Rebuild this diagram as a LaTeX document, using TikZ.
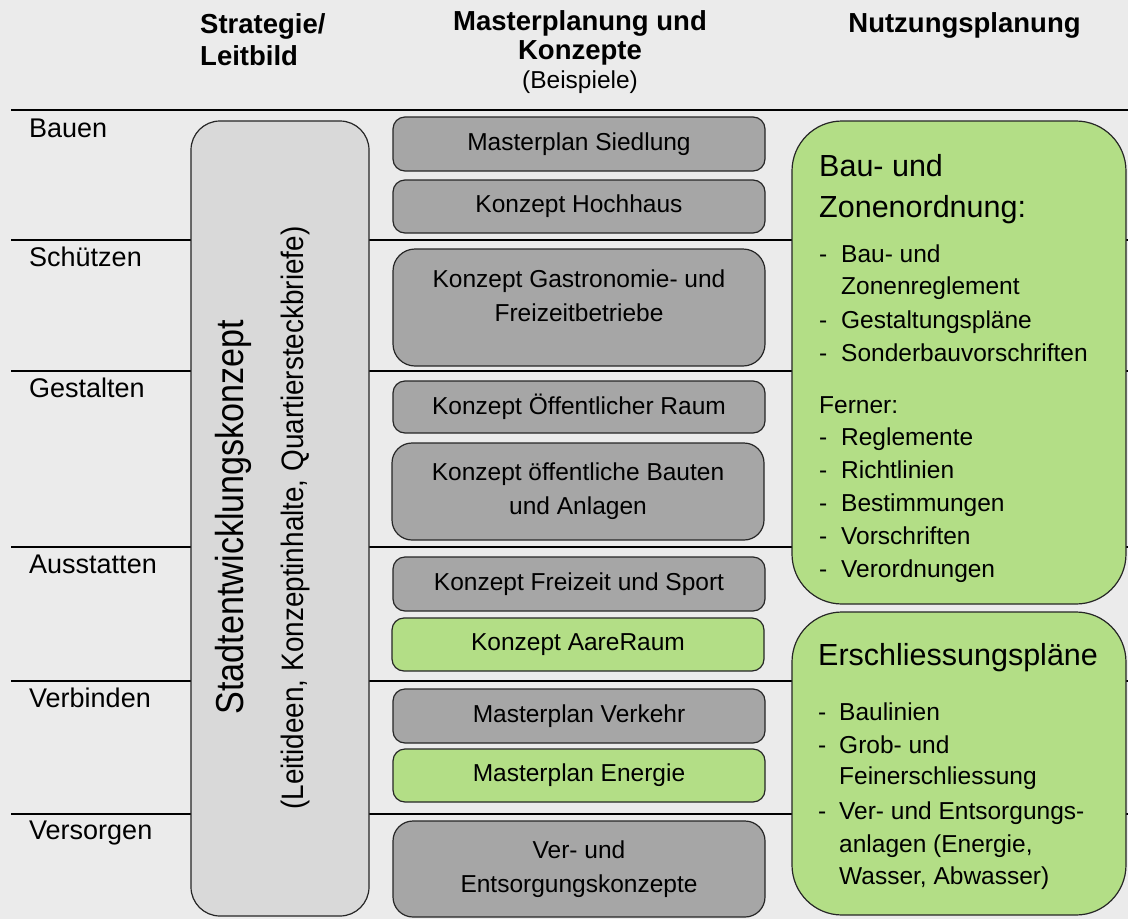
\documentclass[tikz,border=0pt]{standalone}
\usepackage{graphicx}
\usepackage{fontspec}
\setmainfont{Liberation Sans}
\definecolor{bgcol}{HTML}{EBEBEB}
\definecolor{boxgray}{HTML}{A6A6A6}
\definecolor{stratgray}{HTML}{D9D9D9}
\definecolor{boxgreen}{HTML}{B3DE86}
\definecolor{edgecol}{HTML}{262626}
\newcommand\myfs[2]{\fontsize{#1}{#2}\selectfont}
\begin{document}
\begin{tikzpicture}[x=1pt,y=-1pt,
  sepline/.style={draw=black, line width=2.5pt},
  hdr/.style={inner sep=0pt, font=\myfs{27.5}{30}\bfseries},
  subhdr/.style={inner sep=0pt, font=\myfs{24.5}{28}},
  lab/.style={inner sep=0pt, anchor=base west, font=\myfs{27}{30}},
  mbox/.style={draw=edgecol, line width=1.2pt, fill=boxgray, rounded corners=12pt,
    minimum width=372pt, inner sep=0pt, align=center, font=\myfs{24.5}{34}},
  mgreen/.style={mbox, fill=boxgreen},
  mtext/.style={inner sep=0pt, align=center, font=\myfs{24.5}{34}},
  gbox/.style={draw=edgecol, line width=1.2pt, fill=boxgreen, rounded corners=50pt,
    minimum width=334pt, inner sep=0pt},
  gtitle/.style={inner sep=0pt, anchor=base west, font=\myfs{30.5}{34}},
  gitem/.style={inner sep=0pt, anchor=base west, font=\myfs{24.5}{33}}
]
% background / page size
\path[use as bounding box, fill=bgcol] (0,0) rectangle (1128,919);

% separator lines
\foreach \yy in {110,240,371,547,681,814}
  \draw[sepline] (11,\yy) -- (1128,\yy);

% headers
\node[hdr, anchor=base west] (h1a) at (200,33) {Strategie/};
\node[hdr, anchor=base west] (h1b) at (200,65) {Leitbild};
\node[hdr, anchor=base] (h2a) at (580,30) {Masterplanung und};
\node[hdr, anchor=base] (h2b) at (580,59) {Konzepte};
\node[subhdr, anchor=base] (h2c) at (580,88) {(Beispiele)};
\node[hdr, anchor=base] (h3) at (964.5,32) {Nutzungsplanung};

% row labels
\node[lab] (l1) at (29,137) {Bauen};
\node[lab] (l2) at (29,266) {Schützen};
\node[lab] (l3) at (29,397) {Gestalten};
\node[lab] (l4) at (29,573) {Ausstatten};
\node[lab] (l5) at (29,707) {Verbinden};
\node[lab] (l6) at (29,839) {Versorgen};

% strategy box
\node[draw=edgecol, line width=1.2pt, fill=stratgray, rounded corners=29pt,
  minimum width=178pt, minimum height=795pt, inner sep=0pt] (sbox) at (280,518.5) {};
\node[rotate=90, anchor=base, inner sep=0pt] (sk1) at (243,517)
  {\scalebox{0.875}[1]{\myfs{39}{39}Stadtentwicklungskonzept}};
\node[rotate=90, anchor=base, inner sep=0pt] (sk2) at (303,518)
  {\scalebox{0.9}[1]{\myfs{31}{31}(Leitideen, Konzeptinhalte, Quartiersteckbriefe)}};

% middle column boxes
\node[mbox, minimum height=54pt] (m1) at (579,144) {Masterplan Siedlung};
\node[mbox, minimum height=53pt] (m2) at (579,206.5) {Konzept Hochhaus};
\node[mbox, minimum height=117pt, rounded corners=22pt] (m3) at (579,307.5) {};
\node[mtext] (m3t) at (579,296) {Konzept Gastronomie- und\\Freizeitbetriebe};
\node[mbox, minimum height=52pt] (m4) at (579,407) {Konzept Öffentlicher Raum};
\node[mbox, minimum height=97pt, rounded corners=20pt] (m5) at (578,491.5) {Konzept öffentliche Bauten\\und Anlagen};
\node[mbox, minimum height=54pt] (m6) at (579,584) {Konzept Freizeit und Sport};
\node[mgreen, minimum height=53pt] (m7) at (578,644.5) {Konzept AareRaum};
\node[mbox, minimum height=54pt] (m8) at (579,716) {Masterplan Verkehr};
\node[mgreen, minimum height=53pt] (m9) at (579,775.5) {Masterplan Energie};
\node[mbox, minimum height=96pt, rounded corners=20pt] (m10) at (579,869) {Ver- und\\Entsorgungskonzepte};

% right column green boxes
\node[gbox, minimum height=483pt] (g1) at (959,362.5) {};
\node[gbox, minimum height=303pt] (g2) at (959,763.5) {};

% green box 1 text
\node[gtitle] (g1t1) at (819,176) {Bau- und};
\node[gtitle] (g1t2) at (819,217) {Zonenordnung:};
\node[gitem] (g1i1) at (819,262) {\makebox[22pt][l]{-}Bau- und};
\node[gitem] (g1i2) at (819,294) {\hspace*{22pt}Zonenreglement};
\node[gitem] (g1i3) at (819,328) {\makebox[22pt][l]{-}Gestaltungspläne};
\node[gitem] (g1i4) at (819,361) {\makebox[22pt][l]{-}Sonderbauvorschriften};
\node[gitem] (g1f) at (819,413) {Ferner:};
\node[gitem] (g1i5) at (819,445) {\makebox[22pt][l]{-}Reglemente};
\node[gitem] (g1i6) at (819,478) {\makebox[22pt][l]{-}Richtlinien};
\node[gitem] (g1i7) at (819,511) {\makebox[22pt][l]{-}Bestimmungen};
\node[gitem] (g1i8) at (819,544) {\makebox[22pt][l]{-}Vorschriften};
\node[gitem] (g1i9) at (819,577) {\makebox[22pt][l]{-}Verordnungen};

% green box 2 text
\node[gtitle] (g2t) at (818,665) {Erschliessungspläne};
\node[gitem] (g2i1) at (818,720) {\makebox[21pt][l]{-}Baulinien};
\node[gitem] (g2i2) at (818,753) {\makebox[21pt][l]{-}Grob- und};
\node[gitem] (g2i3) at (818,784) {\hspace*{21pt}Feinerschliessung};
\node[gitem] (g2i4) at (818,819) {\makebox[21pt][l]{-}Ver- und Entsorgungs-};
\node[gitem] (g2i5) at (818,852) {\hspace*{21pt}anlagen (Energie,};
\node[gitem] (g2i6) at (818,884) {\hspace*{21pt}Wasser, Abwasser)};
\end{tikzpicture}
\end{document}
